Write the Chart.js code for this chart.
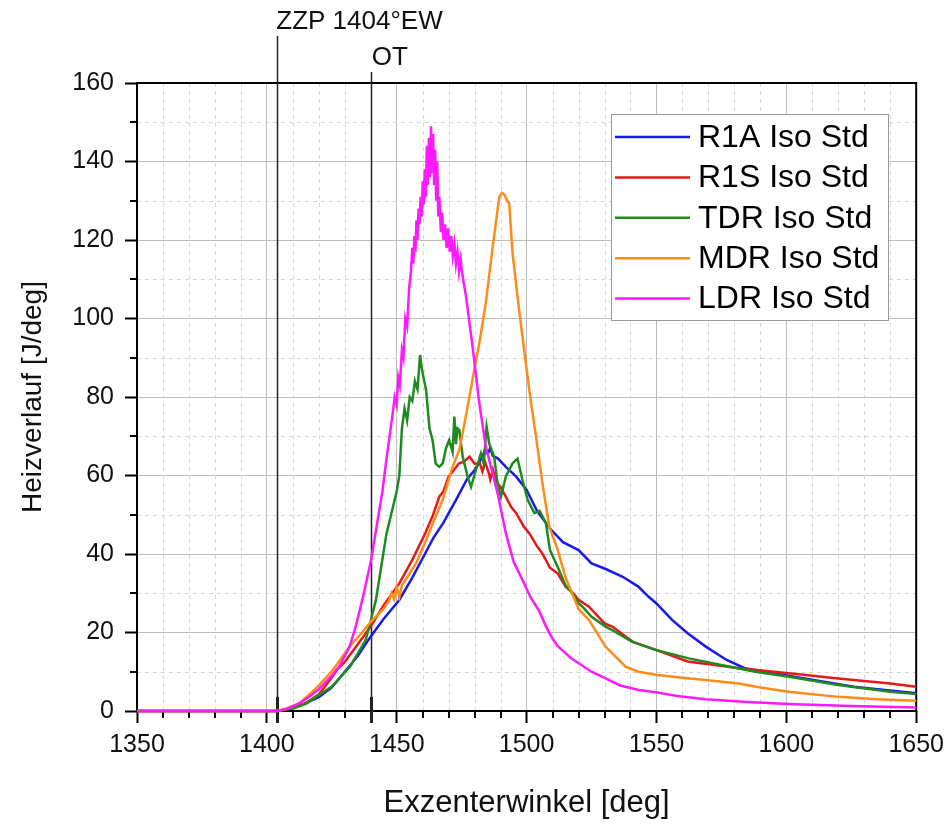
<!DOCTYPE html>
<html>
<head>
<meta charset="utf-8">
<script src="https://cdn.jsdelivr.net/npm/chart.js@4/dist/chart.umd.min.js"></script>
<style>
  html, body { margin: 0; padding: 0; background: #fff; }
  #wrap { width: 951px; height: 827px; }
</style>
</head>
<body>
<div id="wrap"><canvas id="chart" width="951" height="827"></canvas></div>
<script>
// Heizverlauf over Exzenterwinkel
const seriesLabels = ['R1A Iso Std', 'R1S Iso Std', 'TDR Iso Std', 'MDR Iso Std', 'LDR Iso Std'];

const r1aX = [1350, 1404, 1410, 1415, 1420, 1425, 1430, 1435, 1440, 1445, 1451, 1456, 1461, 1464, 1468, 1473, 1477, 1480, 1483, 1484, 1485, 1486, 1487, 1489, 1492, 1496, 1500, 1504, 1509, 1514, 1520, 1525, 1530, 1537, 1543, 1547, 1550, 1556, 1562, 1569, 1577, 1584, 1595, 1607, 1626, 1650];
const r1aY = [0, 0, 0.8, 2, 3.5, 6, 10, 14, 19, 23.5, 28.3, 34, 40.2, 44, 48, 54, 59, 61.4, 64.8, 66.5, 65.5, 67, 65, 64.3, 62.2, 59.7, 56.3, 51, 46.5, 43, 41, 37.6, 36.3, 34.2, 31.7, 29.1, 27.4, 23.2, 19.8, 16.4, 13, 10.9, 9.6, 8.3, 6.2, 4.5];

const r1sX = [1350, 1404, 1410, 1415, 1420, 1425, 1427, 1430, 1435, 1440, 1444.6, 1451, 1456, 1461, 1464, 1466.4, 1468, 1470, 1472, 1474, 1476, 1478, 1480, 1482, 1483, 1484, 1485.5, 1486, 1487, 1488.2, 1490, 1492, 1494, 1496, 1499, 1501, 1504, 1506, 1509, 1512, 1515, 1518, 1520, 1524, 1530, 1533, 1541, 1550, 1562, 1582, 1601, 1620, 1640, 1650];
const r1sY = [0, 0, 0.8, 2, 4.2, 8.5, 10.5, 12.5, 17, 21.5, 26.6, 32.5, 38.5, 45.3, 50, 54.6, 56, 59.7, 61.4, 63.1, 63.5, 64.8, 63, 63.1, 61, 63.5, 60.5, 59, 61.5, 58.5, 57, 54.6, 52, 50.4, 46.9, 45.3, 42, 40.2, 36.5, 35, 31.7, 30, 28.3, 26.6, 22.3, 21.5, 17.6, 15.5, 12.6, 10.9, 9.6, 8.3, 7, 6.2];

const tdrX = [1350, 1404, 1410, 1415, 1419, 1425, 1432, 1438, 1440, 1442, 1446, 1450, 1451, 1452, 1453, 1454, 1455, 1456, 1457, 1458, 1459, 1459.5, 1460, 1461.3, 1462.6, 1463.8, 1465, 1466.4, 1467.7, 1469, 1470.2, 1471.5, 1472.2, 1472.8, 1473.4, 1474.1, 1475.4, 1477.3, 1478.6, 1480.5, 1482.4, 1483.5, 1484.6, 1485.6, 1487.5, 1488.8, 1490.1, 1492, 1494.6, 1496.5, 1498.4, 1500.4, 1503, 1505, 1507.4, 1509, 1512.5, 1515, 1517.6, 1520, 1521.5, 1525, 1530.4, 1533, 1540.7, 1550, 1562.5, 1575, 1588, 1601, 1620, 1640, 1650];
const tdrY = [0, 0, 0.6, 1.8, 3.6, 6.2, 11.3, 18, 23, 28.3, 45, 56, 60, 72, 77, 74, 80, 79, 84, 82, 90.7, 88, 86, 81.8, 72, 69, 63, 62.2, 63.1, 67, 69, 66, 75, 68, 72, 71.6, 64.8, 59.7, 57.1, 61.4, 65.6, 63, 72.4, 68.2, 64.8, 58, 54.6, 59.7, 63.1, 64.3, 58.9, 53.8, 50.4, 51, 48, 41, 35.9, 32, 30, 27.5, 26.6, 24, 21.5, 20.6, 17.6, 15.5, 13.4, 11.7, 10, 8.7, 6.6, 4.9, 4.3];

const mdrX = [1350, 1404, 1408, 1412.6, 1419, 1425.4, 1431.8, 1436, 1440, 1444.5, 1447, 1448, 1449, 1450, 1451, 1452, 1454, 1457.5, 1461, 1464, 1467.7, 1471.5, 1474.1, 1476.7, 1479.5, 1482, 1484.3, 1486.9, 1488.5, 1489.5, 1490.5, 1491.5, 1492.5, 1493.3, 1494.6, 1497.1, 1499.7, 1501.3, 1503.6, 1506.1, 1508.7, 1512, 1515, 1520, 1524, 1530.4, 1538.1, 1543, 1550.3, 1560, 1568.9, 1581.6, 1590, 1600.9, 1620, 1635, 1650];
const mdrY = [0, 0, 0.7, 2, 5.8, 10.4, 16.4, 19.5, 22.7, 25.7, 28, 30, 28.5, 31.5, 29, 32, 34, 37.7, 43, 48, 53.8, 62.2, 66.5, 75.4, 85.6, 94.5, 104, 118, 126, 131, 132, 131.5, 130, 129.3, 116.6, 102.2, 88.6, 80.5, 70, 58, 47, 41, 34, 26, 23.2, 16.4, 11.3, 10, 9.2, 8.5, 7.9, 7, 6, 4.9, 3.6, 3, 2.6];

const ldrX = [1350, 1404, 1408, 1412.6, 1416, 1420, 1425, 1428, 1431.8, 1434, 1437, 1440, 1442, 1444.5, 1446, 1448.5, 1449.2, 1450, 1450.6, 1451.2, 1452, 1452.6, 1453.3, 1454, 1454.8, 1455.5, 1456, 1456.4, 1456.8, 1457.2, 1457.6, 1458, 1458.4, 1458.8, 1459.2, 1459.6, 1460, 1460.4, 1460.8, 1461.2, 1461.6, 1462, 1462.4, 1462.8, 1463.2, 1463.6, 1464, 1464.4, 1464.8, 1465.2, 1465.6, 1466, 1466.4, 1467, 1467.5, 1468, 1468.6, 1469.2, 1469.8, 1470.4, 1471, 1471.6, 1472.2, 1472.8, 1473.4, 1474, 1474.6, 1475.3, 1476.7, 1479.2, 1481.8, 1484.3, 1486.9, 1489, 1492, 1495, 1498.4, 1501.5, 1504.8, 1507.5, 1509.9, 1512, 1515.1, 1517, 1520.2, 1525, 1530.4, 1536, 1543.2, 1550.3, 1558, 1568.9, 1585, 1600.9, 1625, 1650];
const ldrY = [0, 0, 0.6, 2, 3.5, 5.5, 9, 11.5, 16.3, 21, 29, 38, 46, 56, 64, 76, 80, 78, 85, 83, 92, 90, 100, 98, 108, 112, 118, 114, 121, 117, 125, 120, 128, 124, 131, 126, 135, 129, 138, 131, 144, 134, 146, 136, 149, 137, 147, 134, 143, 130, 140, 126, 131, 122, 127, 120, 124, 118, 123, 117, 121, 116, 119, 114, 117, 112, 115, 111, 105.5, 92.8, 78.4, 67.3, 60.6, 55, 45.3, 38, 33.4, 29, 25.5, 21.5, 18.5, 16.5, 14.7, 13.5, 12.1, 10, 8.3, 6.5, 5.35, 4.7, 3.8, 3, 2.3, 1.8, 1.3, 0.9];

const xTicks = [1350, 1400, 1450, 1500, 1550, 1600, 1650];
const yTicks = [0, 20, 40, 60, 80, 100, 120, 140, 160];
const markerAngles = [1404, 1440];
const markerTexts = ['ZZP 1404°EW', 'OT'];

const colors = ['#1a1ae6', '#e61919', '#1f8a1f', '#ff8c1a', '#ff19ff'];
const FONT = '"Liberation Sans", Arial, sans-serif';

function toPoints(xs, ys) {
    return xs.map((x, i) => ({ x: x, y: ys[i] }));
}

const allX = [r1aX, r1sX, tdrX, mdrX, ldrX];
const allY = [r1aY, r1sY, tdrY, mdrY, ldrY];

const datasets = seriesLabels.map((label, i) => ({
    label: label,
    data: toPoints(allX[i], allY[i]),
    borderColor: colors[i],
    backgroundColor: colors[i],
    borderWidth: 2.5,
    pointRadius: 0,
    tension: 0,
    clip: false,
    order: seriesLabels.length - i   // last series on top, like the original
}));

// minor grid, frame, marker lines and the legend box
const decorPlugin = {
    id: 'decor',
    beforeDatasetsDraw(chart) {
        const ctx = chart.ctx;
        const a = chart.chartArea;
        const xs = chart.scales.x, ys = chart.scales.y;
        ctx.save();
        // dashed minor grid
        ctx.strokeStyle = '#d6d6d6';
        ctx.lineWidth = 1;
        ctx.setLineDash([4, 4]);
        for (let v = 1360; v < 1650; v += 10) {
            if (v % 50 === 0) continue;
            const px = Math.round(xs.getPixelForValue(v)) + 0.5;
            ctx.beginPath(); ctx.moveTo(px, a.top); ctx.lineTo(px, a.bottom); ctx.stroke();
        }
        for (let v = 10; v < 160; v += 20) {
            const py = Math.round(ys.getPixelForValue(v)) + 0.5;
            ctx.beginPath(); ctx.moveTo(a.left, py); ctx.lineTo(a.right, py); ctx.stroke();
        }
        ctx.setLineDash([]);
        // minor ticks
        ctx.strokeStyle = '#000';
        ctx.lineWidth = 2;
        for (let v = 1360; v < 1650; v += 10) {
            if (v % 50 === 0) continue;
            const px = Math.round(xs.getPixelForValue(v));
            ctx.beginPath(); ctx.moveTo(px, a.bottom); ctx.lineTo(px, a.bottom + 7); ctx.stroke();
        }
        for (let v = 10; v < 160; v += 20) {
            const py = Math.round(ys.getPixelForValue(v));
            ctx.beginPath(); ctx.moveTo(a.left, py); ctx.lineTo(a.left - 7, py); ctx.stroke();
        }
        // frame
        ctx.lineWidth = 2;
        ctx.strokeRect(a.left, a.top, a.right - a.left, a.bottom - a.top);
        // ZZP / OT lines
        ctx.strokeStyle = '#222';
        markerAngles.forEach((deg, i) => {
            const px = Math.round(xs.getPixelForValue(deg)) + 0.5;
            const topY = i === 0 ? 36 : 72;
            ctx.lineWidth = 1.5;
            ctx.beginPath(); ctx.moveTo(px, topY); ctx.lineTo(px, a.bottom); ctx.stroke();
            ctx.lineWidth = 3;
            ctx.beginPath(); ctx.moveTo(px, a.bottom - 14); ctx.lineTo(px, a.bottom + 12); ctx.stroke();
        });
        ctx.fillStyle = '#111';
        ctx.font = '26px ' + FONT;
        ctx.textBaseline = 'alphabetic';
        ctx.textAlign = 'left';
        ctx.fillText(markerTexts[0], xs.getPixelForValue(markerAngles[0]) - 1, 29);
        ctx.fillText(markerTexts[1], xs.getPixelForValue(markerAngles[1]) + 1, 65);
        ctx.restore();
    },
    afterDraw(chart) {
        const ctx = chart.ctx;
        ctx.save();
        const bx = 611.5, by = 114.5, bw = 277, bh = 206;
        ctx.fillStyle = '#fff';
        ctx.fillRect(bx, by, bw, bh);
        ctx.strokeStyle = '#999';
        ctx.lineWidth = 1;
        ctx.strokeRect(bx, by, bw, bh);
        ctx.font = '32px ' + FONT;
        ctx.textBaseline = 'middle';
        ctx.textAlign = 'left';
        chart.data.datasets.forEach((ds, i) => {
            const y = 137 + i * 40.4;
            ctx.strokeStyle = ds.borderColor;
            ctx.lineWidth = 2.5;
            ctx.beginPath(); ctx.moveTo(615, y); ctx.lineTo(690, y); ctx.stroke();
            ctx.fillStyle = '#000';
            ctx.fillText(ds.label, 698, y + 1);
        });
        ctx.restore();
    }
};

new Chart(document.getElementById('chart'), {
    type: 'line',
    data: { datasets: datasets },
    options: {
        responsive: false,
        animation: false,
        layout: { padding: { top: 83, right: 33, left: 0, bottom: 0 } },
        plugins: {
            legend: { display: false },
            tooltip: { enabled: false }
        },
        scales: {
            x: {
                type: 'linear',
                min: 1350,
                max: 1650,
                afterFit: s => { s.height = 116; },
                afterBuildTicks: s => { s.ticks = xTicks.map(v => ({ value: v })); },
                grid: { color: '#bdbdbd', lineWidth: 1, tickLength: 12, tickColor: '#000', tickWidth: 2 },
                border: { display: false },
                ticks: { color: '#111', font: { family: FONT, size: 25 }, padding: 7, maxRotation: 0, callback: v => String(v) },
                title: { display: true, text: 'Exzenterwinkel [deg]', color: '#111', font: { family: FONT, size: 31 }, padding: { bottom: 5 } }
            },
            y: {
                min: 0,
                max: 160,
                afterFit: s => { s.width = 137; },
                afterBuildTicks: s => { s.ticks = yTicks.map(v => ({ value: v })); },
                grid: { color: '#bdbdbd', lineWidth: 1, tickLength: 12, tickColor: '#000', tickWidth: 2 },
                border: { display: false },
                ticks: { color: '#111', font: { family: FONT, size: 25 }, padding: 11, callback: v => String(v) },
                title: { display: true, text: 'Heizverlauf [J/deg]', color: '#111', font: { family: FONT, size: 28 }, padding: { top: 16 } }
            }
        }
    },
    plugins: [decorPlugin]
});
</script>
</body>
</html>
